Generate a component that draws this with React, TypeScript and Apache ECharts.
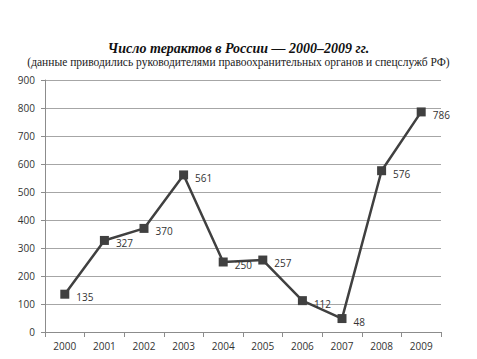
import React, { useEffect, useRef } from "react";
import * as echarts from "echarts";

const years = ["2000", "2001", "2002", "2003", "2004", "2005", "2006", "2007", "2008", "2009"];
const attacks = [135, 327, 370, 561, 250, 257, 112, 48, 576, 786];
const titleText = "Число терактов в России — 2000–2009 гг.";
const subtitleText = "(данные приводились руководителями правоохранительных органов и спецслужб РФ)";

export default function App() {
  const ref = useRef<HTMLDivElement>(null);
  useEffect(() => {
    if (!ref.current) return;
    const chart = echarts.init(ref.current, undefined, { renderer: "svg" });
    chart.setOption({
      animation: false,
      backgroundColor: "#ffffff",
      title: {
        text: titleText,
        subtext: subtitleText,
        left: "center",
        top: 36,
        itemGap: 1,
        textStyle: {
          fontFamily: "Liberation Serif",
          fontStyle: "italic",
          fontWeight: "bold",
          fontSize: 14,
          color: "#111",
        },
        subtextStyle: {
          fontFamily: "Liberation Serif",
          fontSize: 11.5,
          color: "#222",
        },
      },
      grid: { left: 45, right: 36, top: 80, bottom: 27, containLabel: false },
      xAxis: {
        type: "category",
        data: years,
        boundaryGap: true,
        axisLine: { lineStyle: { color: "#8c8c8c" } },
        axisTick: { show: true, alignWithLabel: false, length: 5, lineStyle: { color: "#8c8c8c" } },
        axisLabel: { fontFamily: "Open Sans", fontSize: 10, color: "#333", margin: 9 },
      },
      yAxis: {
        type: "value",
        min: 0,
        max: 900,
        interval: 100,
        axisLine: { show: true, lineStyle: { color: "#8c8c8c" } },
        axisTick: { show: true, length: 4, lineStyle: { color: "#8c8c8c" } },
        axisLabel: { fontFamily: "Open Sans", fontSize: 10, color: "#333", margin: 10 },
        splitLine: { lineStyle: { color: "#a6a6a6", width: 1 } },
      },
      series: [
        {
          type: "line",
          data: attacks,
          symbol: "rect",
          symbolSize: 9,
          itemStyle: { color: "#404040" },
          lineStyle: { color: "#404040", width: 2.5 },
          label: {
            show: true,
            position: "right",
            distance: 7,
            fontFamily: "Open Sans",
            fontSize: 10,
            color: "#333",
            offset: [0, 3],
          },
        },
      ],
    });
    return () => chart.dispose();
  }, []);
  return <div ref={ref} style={{ width: 477, height: 359, margin: -8 }} />;
}
